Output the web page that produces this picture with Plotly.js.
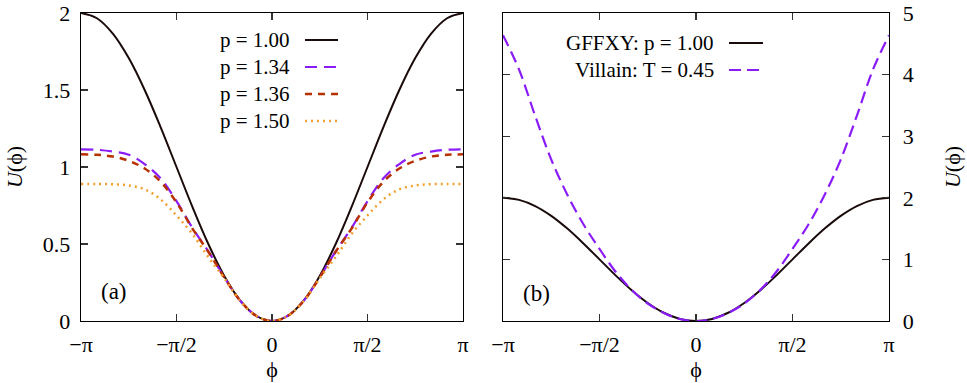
<!DOCTYPE html>
<html>
<head>
<meta charset="utf-8">
<script src="https://cdn.plot.ly/plotly-3.0.1.min.js"></script>
<style>html,body{margin:0;padding:0;background:#fff;} #chart{width:967px;height:383px;}</style>
</head>
<body>
<div id="chart"></div>
<script>
// phi grid (radians), step pi/12
const phi = [-3.1416,-2.8798,-2.6180,-2.3562,-2.0944,-1.8326,-1.5708,-1.3090,-1.0472,-0.7854,-0.5236,-0.2618,0,
             0.2618,0.5236,0.7854,1.0472,1.3090,1.5708,1.8326,2.0944,2.3562,2.6180,2.8798,3.1416];

// panel (a)
const U_p100 = [2.0,1.966,1.866,1.707,1.5,1.259,1.0,0.741,0.5,0.293,0.134,0.034,0,
                0.034,0.134,0.293,0.5,0.741,1.0,1.259,1.5,1.707,1.866,1.966,2.0];
const U_p134 = [1.115,1.112,1.10,1.08,1.019,0.927,0.778,0.605,0.452,0.285,0.132,0.034,0,
                0.034,0.132,0.285,0.452,0.605,0.778,0.927,1.019,1.08,1.10,1.112,1.115];
const U_p136 = [1.082,1.079,1.068,1.04,0.99,0.905,0.77,0.60,0.45,0.283,0.132,0.034,0,
                0.034,0.132,0.283,0.45,0.60,0.77,0.905,0.99,1.04,1.068,1.079,1.082];
const U_p150 = [0.89,0.89,0.888,0.88,0.855,0.79,0.685,0.565,0.415,0.278,0.13,0.034,0,
                0.034,0.13,0.278,0.415,0.565,0.685,0.79,0.855,0.88,0.888,0.89,0.89];

// panel (b)
const U_gffxy = [2.0,1.966,1.866,1.707,1.5,1.259,1.0,0.741,0.5,0.293,0.134,0.034,0,
                 0.034,0.134,0.293,0.5,0.741,1.0,1.259,1.5,1.707,1.866,1.966,2.0];
const U_villain = [4.64,4.08,3.33,2.62,2.05,1.57,1.17,0.80,0.505,0.284,0.13,0.033,0,
                   0.033,0.13,0.284,0.505,0.80,1.17,1.57,2.05,2.62,3.33,4.08,4.64];

const legendA = ['p = 1.00','p = 1.34','p = 1.36','p = 1.50'];
const legendB = ['GFFXY: p = 1.00','Villain: T = 0.45'];

const xTickVals = [-Math.PI,-Math.PI/2,0,Math.PI/2,Math.PI];
const xTickText = ['\u2212\u03c0','\u2212\u03c0/2','0','\u03c0/2','\u03c0'];
const yTickValsA = [0,0.5,1,1.5,2];
const yTickTextA = ['0','0.5','1','1.5','2'];
const yTickValsB = [0,1,2,3,4,5];

const F = 'Liberation Serif';
const cBlack = '#1a0a0a', cPurple = '#8a1cf8', cRed = '#b83000', cOrange = '#f2a030';

const styles = [
  {color:cBlack, width:2, dash:'solid'},
  {color:cPurple, width:2.2, dash:'12px,7px'},
  {color:cRed, width:2.5, dash:'7px,6px'},
  {color:cOrange, width:2.5, dash:'2px,4px'}
];
const seriesA = [U_p100,U_p134,U_p136,U_p150];
const traces = [];
seriesA.forEach((ys,i)=>traces.push({x:phi,y:ys,xaxis:'x',yaxis:'y',type:'scatter',mode:'lines',
  line:Object.assign({shape:'spline',smoothing:1},styles[i]),name:legendA[i],showlegend:false,hoverinfo:'skip'}));
const stylesB = [{color:cBlack,width:2,dash:'solid'},{color:cPurple,width:2.2,dash:'12px,6px'}];
[U_gffxy,U_villain].forEach((ys,i)=>traces.push({x:phi,y:ys,xaxis:'x2',yaxis:'y2',type:'scatter',mode:'lines',
  line:Object.assign({shape:'spline',smoothing:1},stylesB[i]),name:legendB[i],showlegend:false,hoverinfo:'skip'}));

const W=967,H=383;
const px = v=>v/W, py = v=>1-v/H;
const axBase = {showgrid:false,zeroline:false,showline:true,linecolor:'#000',linewidth:1.3,
  ticks:'inside',ticklen:7,tickwidth:1.2,tickcolor:'#333',mirror:'ticks',
  tickfont:{family:F,size:22,color:'#000'},automargin:false};
const titleFont = {family:F,size:22,color:'#000'};
const layout = {
  width:W,height:H,margin:{l:0,r:0,t:0,b:0},paper_bgcolor:'#fff',plot_bgcolor:'#fff',
  font:{family:F,color:'#000'},
  showlegend:false,
  xaxis:Object.assign({},axBase,{domain:[px(81),px(463)],range:[-Math.PI,Math.PI],tickvals:xTickVals,ticktext:xTickText,
    ticklabelstandoff:3,title:{text:'\u03d5',font:titleFont,standoff:5},anchor:'y'}),
  yaxis:Object.assign({},axBase,{domain:[py(321),py(13)],range:[0,2],tickvals:yTickValsA,ticktext:yTickTextA,
    ticklabelstandoff:5,title:{text:'<i>U</i>(\u03d5)',font:titleFont,standoff:14},anchor:'x'}),
  xaxis2:Object.assign({},axBase,{domain:[px(503),px(889)],range:[-Math.PI,Math.PI],tickvals:xTickVals,ticktext:xTickText,
    ticklabelstandoff:3,title:{text:'\u03d5',font:titleFont,standoff:5},anchor:'y2'}),
  yaxis2:Object.assign({},axBase,{domain:[py(321),py(13)],range:[0,5],tickvals:yTickValsB,side:'right',
    ticklabelstandoff:8,title:{text:'<i>U</i>(\u03d5)',font:titleFont,standoff:32},anchor:'x2'}),
  annotations:[],shapes:[]
};

const legYA = [40,67,94,121];
legendA.forEach((t,i)=>{
  layout.annotations.push({xref:'paper',yref:'paper',x:px(292),y:py(legYA[i]),xanchor:'right',yanchor:'middle',
    text:t,showarrow:false,font:{family:F,size:21,color:'#000'}});
  layout.shapes.push({type:'line',xref:'paper',yref:'paper',x0:px(305),x1:px(338),y0:py(legYA[i]),y1:py(legYA[i]),
    line:{color:styles[i].color,width:styles[i].width,dash:styles[i].dash}});
});
const legYB = [43,70];
legendB.forEach((t,i)=>{
  layout.annotations.push({xref:'paper',yref:'paper',x:px(716),y:py(legYB[i]),xanchor:'right',yanchor:'middle',
    text:t,showarrow:false,font:{family:F,size:21,color:'#000'}});
  layout.shapes.push({type:'line',xref:'paper',yref:'paper',x0:px(729),x1:px(763),y0:py(legYB[i]),y1:py(legYB[i]),
    line:{color:stylesB[i].color,width:stylesB[i].width,dash:stylesB[i].dash}});
});
layout.annotations.push({xref:'paper',yref:'paper',x:px(114),y:py(291),xanchor:'center',yanchor:'middle',
  text:'(a)',showarrow:false,font:{family:F,size:23,color:'#000'}});
layout.annotations.push({xref:'paper',yref:'paper',x:px(536),y:py(293),xanchor:'center',yanchor:'middle',
  text:'(b)',showarrow:false,font:{family:F,size:23,color:'#000'}});

Plotly.newPlot('chart',traces,layout,{staticPlot:true,displayModeBar:false});
</script>
</body>
</html>
